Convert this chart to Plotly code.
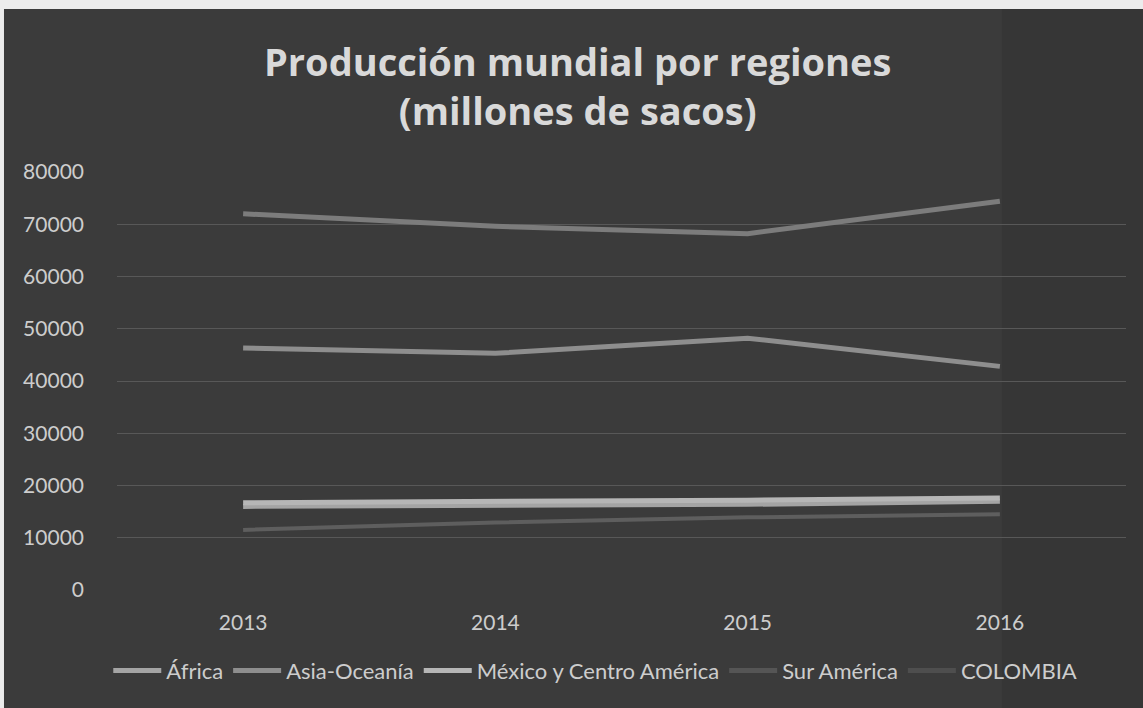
import plotly.graph_objects as go

years = ["2013", "2014", "2015", "2016"]
africa = [16000, 16100, 16400, 17000]
asia_oceania = [46300, 45300, 48200, 42800]
mexico_ca = [16700, 16900, 17200, 17600]
sur_america = [72000, 69600, 68200, 74400]
colombia = [11500, 12900, 13900, 14500]

series = [
    ("África", africa, "#a4a4a4", 5),
    ("Asia-Oceanía", asia_oceania, "#8e8e8e", 5),
    ("México y Centro América", mexico_ca, "#b6b6b6", 5),
    ("Sur América", sur_america, "#7c7c7c", 5),
    ("COLOMBIA", colombia, "#5e5e5e", 4),
]
legend_colors = {"Sur América": "#555555", "COLOMBIA": "#4e4e4e"}

fig = go.Figure()
for name, vals, color, w in series:
    fig.add_trace(go.Scatter(
        x=years, y=vals, name=name, mode="lines",
        line=dict(color=color, width=w),
        showlegend=False,
    ))
    fig.add_trace(go.Scatter(
        x=[None], y=[None], name=name, mode="lines",
        line=dict(color=legend_colors.get(name, color), width=5),
        showlegend=True,
    ))

txt = "#cdcdcd"
fig.update_layout(
    width=1143, height=708,
    margin=dict(l=117, r=17, t=172, b=118),
    paper_bgcolor="#ececec",
    plot_bgcolor="rgba(0,0,0,0)",
    font=dict(family="Lato, sans-serif", size=21, color=txt),
    xaxis=dict(
        range=[-0.5, 3.5], showgrid=False, zeroline=False, showline=False,
        ticks="", ticklabelstandoff=18, tickfont=dict(size=21, color=txt),
    ),
    yaxis=dict(
        range=[0, 80000], dtick=10000, showgrid=True, gridcolor="#585858", gridwidth=1,
        zeroline=False, showline=False, ticks="", ticklabelstandoff=32,
        tickfont=dict(size=21, color=txt), tickformat="d",
    ),
    legend=dict(
        orientation="h", x=0.474, xanchor="center", y=-0.193, yanchor="middle",
        font=dict(size=22, color=txt), bgcolor="rgba(0,0,0,0)",
        itemwidth=48, tracegroupgap=0,
    ),
    annotations=[
        dict(text="Producción mundial por regiones<br>(millones de sacos)",
             xref="paper", yref="paper", x=0.456, y=1.208,
             xanchor="center", yanchor="middle", showarrow=False,
             font=dict(family="Open Sans, sans-serif", size=38, color="#d9d9d9", weight="bold")),
    ],
    shapes=[
        dict(type="rect", xref="paper", yref="paper", layer="below",
             x0=-0.112, x1=1.02, y0=-0.29, y1=1.39,
             fillcolor="#3b3b3b", line=dict(width=0)),
        dict(type="rect", xref="paper", yref="paper", layer="below",
             x0=0.877, x1=1.02, y0=-0.29, y1=1.39,
             fillcolor="#363636", line=dict(width=0)),
    ],
)

fig.write_html("out.html")
